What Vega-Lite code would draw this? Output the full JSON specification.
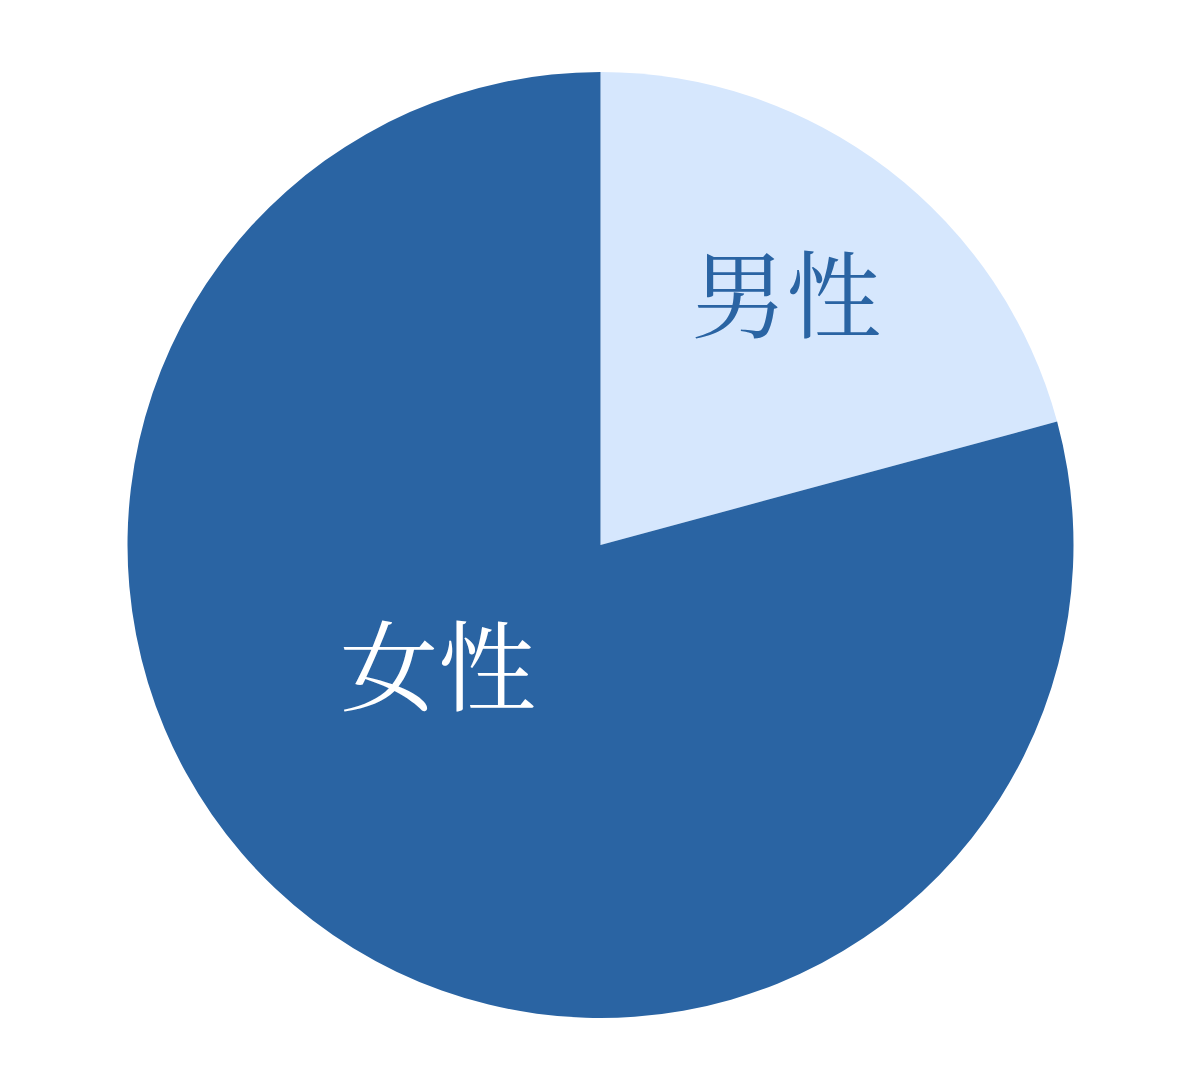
{
  "$schema": "https://vega.github.io/schema/vega-lite/v6.json",
  "width": 1201,
  "height": 1085,
  "autosize": {"type": "fit", "contains": "padding"},
  "padding": {"top": 5, "bottom": 0, "left": 0, "right": 0},
  "background": "white",
  "config": {"view": {"stroke": null}},
  "data": {
    "values": [
      {"sex": "男性", "share": 20.8},
      {"sex": "女性", "share": 79.2}
    ]
  },
  "encoding": {
    "theta": {"field": "share", "type": "quantitative", "stack": true},
    "order": {"field": "sex", "sort": "descending"}
  },
  "layer": [
    {
      "mark": {"type": "arc", "outerRadius": 473},
      "encoding": {
        "color": {
          "field": "sex",
          "type": "nominal",
          "scale": {"domain": ["男性", "女性"], "range": ["#d6e7fd", "#2a64a3"]},
          "legend": null
        }
      }
    },
    {
      "mark": {
        "type": "text",
        "radius": 312,
        "dx": -4,
        "dy": 5,
        "font": "Noto Serif CJK JP, Noto Sans CJK JP",
        "fontSize": 95,
        "color": "#2a64a3",
        "align": "center",
        "baseline": "middle"
      },
      "encoding": {
        "text": {
          "condition": {"test": "datum.sex === '男性'", "field": "sex"},
          "value": ""
        }
      }
    },
    {
      "mark": {
        "type": "text",
        "radius": 203,
        "dx": -39,
        "dy": -32,
        "font": "Noto Serif CJK JP, Noto Sans CJK JP",
        "fontSize": 98,
        "color": "white",
        "align": "center",
        "baseline": "middle"
      },
      "encoding": {
        "text": {
          "condition": {"test": "datum.sex === '女性'", "field": "sex"},
          "value": ""
        }
      }
    }
  ]
}
